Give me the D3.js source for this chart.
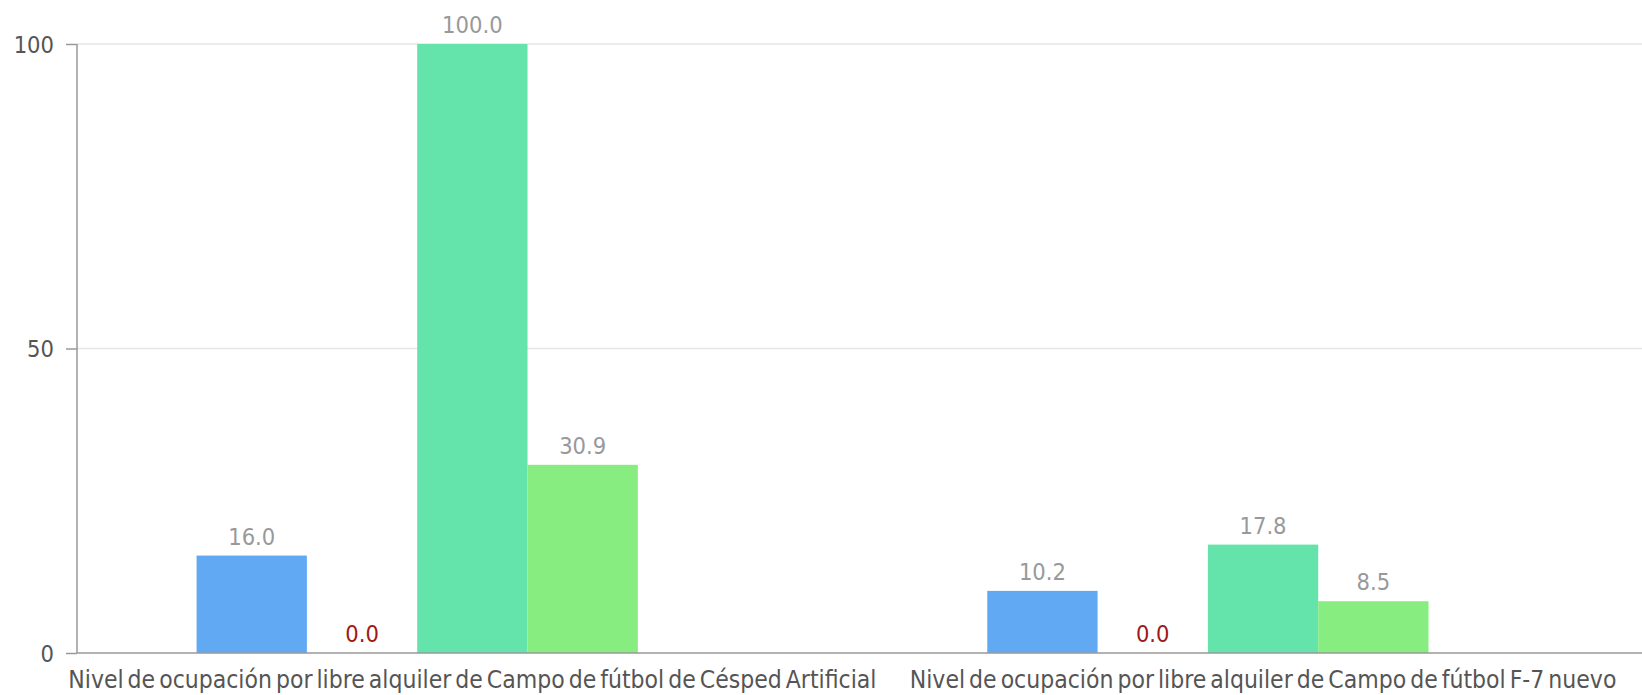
<!DOCTYPE html>
<html><head><meta charset="utf-8">
<script src="https://cdn.jsdelivr.net/npm/d3@7"></script>
<style>body{margin:0;background:#fff}svg{display:block}text{font-family:"DejaVu Sans Condensed","DejaVu Sans",sans-serif}</style>
</head><body><svg id="c" width="1642" height="695"></svg>
<script>
const categories = ["Nivel de ocupación por libre alquiler de Campo de fútbol de Césped Artificial","Nivel de ocupación por libre alquiler de Campo de fútbol F-7 nuevo"];
const seriesNames = ["s1","s2","s3","s4","s5"];
const seriesColors = ["#62a9f4","#a01818","#64e3aa","#87ed80","#cccccc"];
const labelColors = ["#999999","#a01818","#999999","#999999","#999999"];
const s1 = [16.0, 10.2];
const s2 = [0.0, 0.0];
const s3 = [100.0, 17.8];
const s4 = [30.9, 8.5];
const s5 = [null, null];
const yTicks = [0, 50, 100];

(function () {
const values = [s1, s2, s3, s4, s5];
const svg = d3.select("#c");
const W = 1642, mLeft = 77, mTop = 44, mBottom = 653;
const x0 = d3.scaleBand().domain(categories).range([mLeft, mLeft + 1581.4]).padding(0);
const x1 = d3.scaleBand().domain(seriesNames).range([0, x0.bandwidth()]).paddingInner(0).paddingOuter(1.084);
const y = d3.scaleLinear().domain([0, 100]).range([mBottom, mTop]);

svg.append("g").selectAll("line").data(yTicks.filter(d => d > 0)).join("line")
  .attr("x1", mLeft).attr("x2", W).attr("y1", d => y(d)).attr("y2", d => y(d))
  .attr("stroke", "#e6e6e6").attr("stroke-width", 1.5);

const data = [];
categories.forEach((c, i) => seriesNames.forEach((s, j) => { if (values[j][i] != null) data.push({c, s, j, v: values[j][i]}); }));
svg.append("g").selectAll("rect").data(data.filter(d => d.v > 0)).join("rect")
  .attr("x", d => x0(d.c) + x1(d.s)).attr("width", x1.bandwidth())
  .attr("y", d => y(d.v)).attr("height", d => y(0) - y(d.v))
  .attr("fill", d => seriesColors[d.j]);

svg.append("g").selectAll("text").data(data).join("text")
  .attr("x", d => x0(d.c) + x1(d.s) + x1.bandwidth() / 2)
  .attr("y", d => y(d.v) - 11)
  .attr("text-anchor", "middle").attr("font-size", 23.5)
  .attr("fill", d => labelColors[d.j])
  .text(d => d.v.toFixed(1));

const ya = svg.append("g").attr("transform", `translate(${mLeft},0)`)
  .call(d3.axisLeft(y).tickValues(yTicks).tickSize(11).tickPadding(12).tickFormat(d3.format("d")));
ya.select(".domain").remove();
ya.selectAll(".tick line").attr("stroke", "#999").attr("stroke-width", 1.5);
ya.selectAll(".tick text").attr("fill", "#555").attr("font-size", 23.5).attr("font-family", null).attr("dy", "0.36em");
svg.append("line").attr("x1", mLeft).attr("x2", mLeft).attr("y1", mTop).attr("y2", mBottom)
  .attr("stroke", "#999").attr("stroke-width", 1.5);
svg.append("line").attr("x1", mLeft).attr("x2", W).attr("y1", mBottom).attr("y2", mBottom)
  .attr("stroke", "#999").attr("stroke-width", 1.5);

const xa = svg.append("g").attr("transform", `translate(0,${mBottom})`)
  .call(d3.axisBottom(x0).tickSize(0).tickPadding(0));
xa.select(".domain").remove();
xa.selectAll(".tick text").attr("fill", "#555").attr("font-size", 24.5).attr("font-family", null)
  .attr("dy", 0).attr("y", 35).attr("word-spacing", -3);
})();
</script></body></html>
